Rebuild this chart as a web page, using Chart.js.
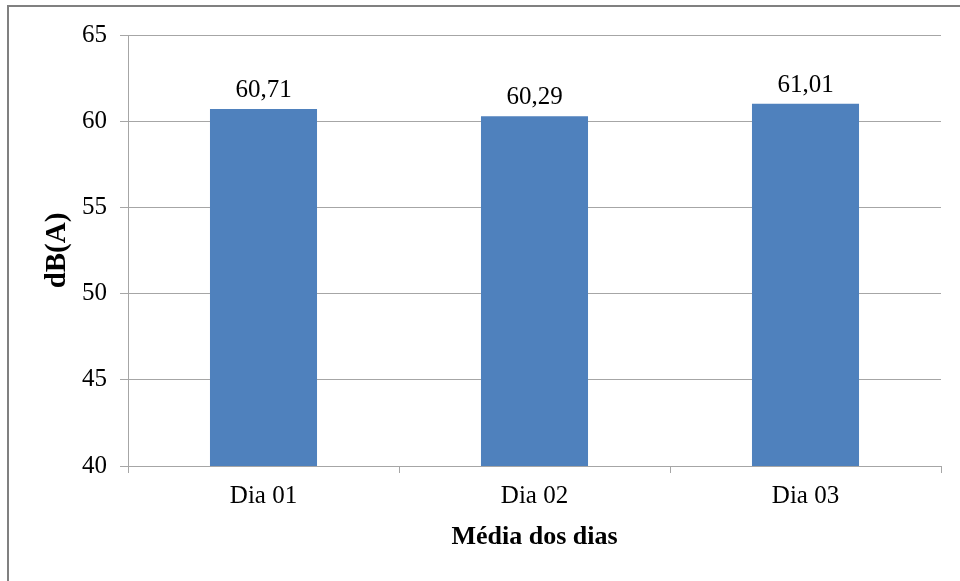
<!DOCTYPE html>
<html>
<head>
<meta charset="utf-8">
<script src="https://cdn.jsdelivr.net/npm/chart.js@4/dist/chart.umd.min.js"></script>
<style>
  html, body { margin: 0; padding: 0; background: #fff; overflow: hidden; }
  #wrap { position: relative; width: 960px; height: 581px; }
  #frame { position: absolute; left: 7px; top: 5px; width: 1000px; height: 700px;
           border-left: 2px solid #808080; border-top: 2px solid #808080; }
  #chart { position: absolute; left: 0; top: 0; }
</style>
</head>
<body>
<div id="wrap">
  <div id="frame"></div>
  <canvas id="chart" width="960" height="581"></canvas>
</div>
<script>
const categories = ['Dia 01', 'Dia 02', 'Dia 03'];
const mediaDb    = [60.71, 60.29, 61.01];
const yMin = 40, yMax = 65, yStep = 5;

const FONT = '"Liberation Serif", "Times New Roman", serif';
const GRID = '#a6a6a6';

// valores acima das barras, com vírgula decimal
const valueLabels = {
  id: 'valueLabels',
  afterDatasetsDraw(chart) {
    const ctx = chart.ctx;
    const meta = chart.getDatasetMeta(0);
    ctx.save();
    ctx.font = '25px ' + FONT;
    ctx.fillStyle = '#000';
    ctx.textAlign = 'center';
    ctx.textBaseline = 'alphabetic';
    meta.data.forEach((bar, i) => {
      ctx.fillText(mediaDb[i].toFixed(2).replace('.', ','), bar.x, bar.y - 12);
    });
    ctx.restore();
  }
};

new Chart(document.getElementById('chart'), {
  type: 'bar',
  data: {
    labels: categories,
    datasets: [{ data: mediaDb, backgroundColor: '#4f81bd', categoryPercentage: 1, barPercentage: 0.395 }]
  },
  options: {
    responsive: false, animation: false,
    layout: { padding: { left: 0, right: 19, top: 35, bottom: 0 } },
    plugins: { legend: { display: false }, tooltip: { enabled: false }, title: { display: false } },
    scales: {
      x: {
        afterFit: s => { s.height = 115; },
        grid: { offset: true, drawOnChartArea: false, drawTicks: true, tickLength: 7, color: GRID },
        border: { color: GRID },
        ticks: { color: '#000', font: { family: FONT, size: 25 }, padding: 8 },
        title: { display: true, text: 'Média dos dias', color: '#000',
                 font: { family: FONT, size: 26, weight: 'bold' }, padding: { top: 0, bottom: 28 } }
      },
      y: {
        min: yMin, max: yMax,
        afterFit: s => { s.width = 128; },
        grid: { color: GRID, tickLength: 8 },
        border: { color: GRID },
        ticks: { stepSize: yStep, color: '#000', font: { family: FONT, size: 25 }, padding: 13 },
        title: { display: true, text: 'dB(A)', color: '#000',
                 font: { family: FONT, size: 29, weight: 'bold' }, padding: { top: 40, bottom: 0 } }
      }
    }
  },
  plugins: [valueLabels]
});
</script>
</body>
</html>
